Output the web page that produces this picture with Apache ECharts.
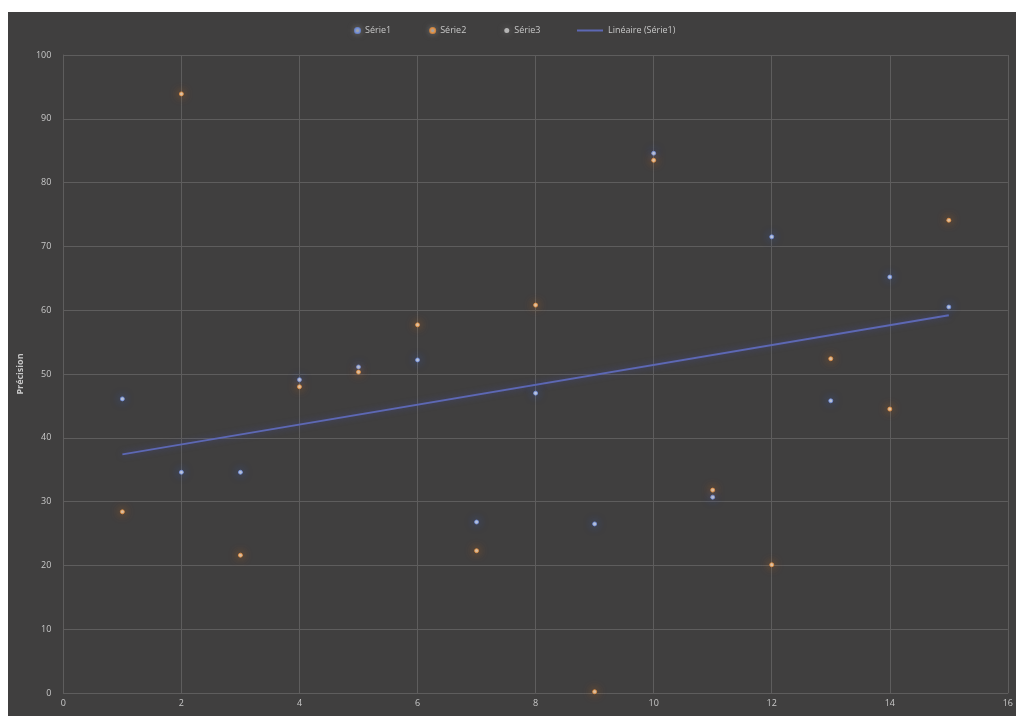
<!DOCTYPE html>
<html>
<head>
<meta charset="utf-8">
<script src="https://cdn.jsdelivr.net/npm/echarts@6/dist/echarts.min.js"></script>
<style>
html,body{margin:0;padding:0;background:#ffffff;width:1016px;height:716px;overflow:hidden;}
#chart{position:absolute;left:8px;top:12px;width:1008px;height:704px;background:#403f3f;}
</style>
</head>
<body>
<div id="chart"></div>
<script>
const xValues = [1,2,3,4,5,6,7,8,9,10,11,12,13,14,15];
const serie1 = [46.1,34.6,34.6,49.1,51.1,52.2,26.8,47.0,26.5,84.6,30.7,71.5,45.8,65.2,60.5];
const serie2 = [28.4,93.9,21.6,48.0,50.3,57.7,22.3,60.8,0.2,83.5,31.8,20.1,52.4,44.5,74.1];
const serie3 = [];
const trendX = [1,15];
const trendY = [37.4,59.2];
const seriesNames = ['Série1','Série2','Série3','Linéaire (Série1)'];
const yAxisName = 'Précision';

const pairs = (xs, ys) => ys.map((v,i)=>[xs[i], v]);

const chart = echarts.init(document.getElementById('chart'), null, {renderer:'canvas'});
const labelColor = '#c8c8c8';
const gridColor = '#5e5d5d';
const legendText = {color: labelColor, fontSize: 9};
chart.setOption({
  backgroundColor: 'transparent',
  animation: false,
  textStyle: {fontFamily: 'Open Sans, sans-serif'},
  legend: [
    {
      top: 9, left: 341,
      itemGap: 38, itemWidth: 5, itemHeight: 5,
      textStyle: legendText,
      data: [
        {name: seriesNames[0], icon: 'circle', itemStyle:{color:'#c9cfdc', shadowBlur: 6, shadowColor:'#777'}},
        {name: seriesNames[1], icon: 'circle', itemStyle:{color:'#d8cfc8', shadowBlur: 6, shadowColor:'#777'}},
        {name: seriesNames[2], icon: 'circle', itemStyle:{color:'#cfcfcf', shadowBlur: 6, shadowColor:'#777'}}
      ]
    },
    {
      top: 9, left: 563,
      itemWidth: 26, itemHeight: 8,
      textStyle: legendText,
      data: [
        {name: seriesNames[3], itemStyle: {opacity: 0}, lineStyle: {color:'#5d68b4', width: 2}}
      ]
    }
  ],
  grid: {left: 52, right: 3, top: 43, bottom: 23, containLabel: false},
  xAxis: {
    type: 'value', min: 0, max: 16, interval: 2,
    axisLine: {show: true, lineStyle: {color: gridColor}},
    axisTick: {show: false},
    splitLine: {show: true, lineStyle: {color: gridColor, width: 1}},
    axisLabel: {color: labelColor, fontSize: 9, margin: 6}
  },
  yAxis: {
    type: 'value', min: 0, max: 100, interval: 10,
    name: yAxisName, nameLocation: 'middle', nameGap: 34, nameRotate: 90,
    nameTextStyle: {color: labelColor, fontSize: 9, fontWeight: 'bold'},
    axisLine: {show: true, lineStyle: {color: gridColor}},
    axisTick: {show: false},
    splitLine: {show: true, lineStyle: {color: gridColor, width: 1}},
    axisLabel: {color: labelColor, fontSize: 9, margin: 12}
  },
  series: [
    {
      name: seriesNames[0], type: 'scatter', symbol: 'circle', symbolSize: 4,
      data: pairs(xValues, serie1), z: 3,
      itemStyle: {color: '#dfe8ff', shadowBlur: 10, shadowColor: '#3d63c9', borderColor:'#6f8fe0', borderWidth: 1}
    },
    {
      name: seriesNames[1], type: 'scatter', symbol: 'circle', symbolSize: 4,
      data: pairs(xValues, serie2), z: 3,
      itemStyle: {color: '#ffe2c2', shadowBlur: 10, shadowColor: '#e0761f', borderColor:'#e8913f', borderWidth: 1}
    },
    {
      name: seriesNames[2], type: 'scatter', symbol: 'circle', symbolSize: 4,
      data: serie3,
      itemStyle: {color: '#a5a5a5'}
    },
    {
      name: seriesNames[3], type: 'line', showSymbol: false, symbol: 'none',
      data: pairs(trendX, trendY), z: 2,
      lineStyle: {color: '#5d68b4', width: 2, shadowBlur: 6, shadowColor: 'rgba(70,80,180,0.6)'},
      itemStyle: {color: '#5d68b4'}
    }
  ]
});
</script>
</body>
</html>
